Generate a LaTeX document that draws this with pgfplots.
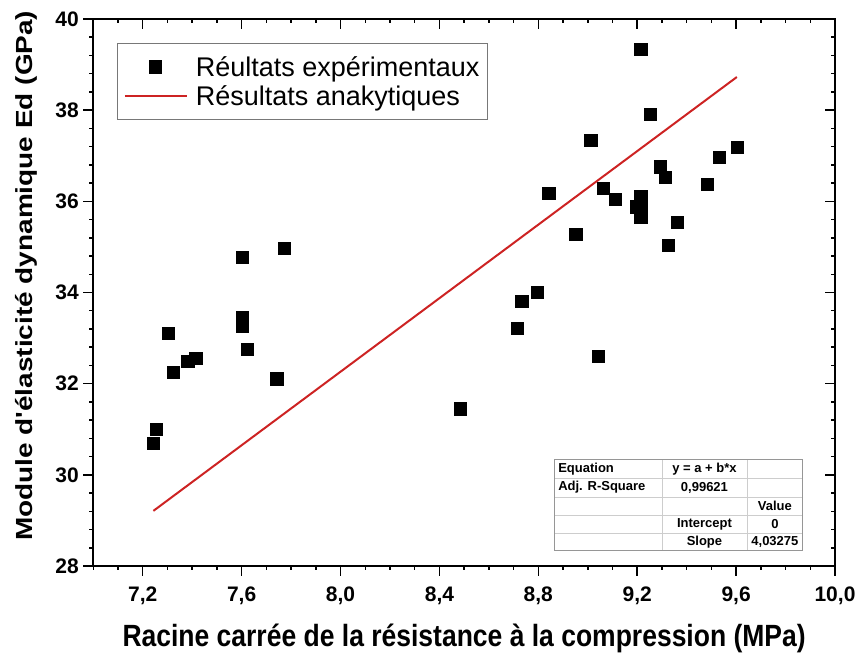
\documentclass[border=0pt]{standalone}
\usepackage{fontspec}
\setmainfont{Liberation Sans}
\newfontfamily\xlabfont[FakeStretch=0.863]{Liberation Sans}
\newfontfamily\ylabfont[FakeStretch=1.2]{Liberation Sans}
\usepackage{pgfplots}
\usepackage{pgfplotstable}
\pgfplotsset{compat=1.18}

\definecolor{fitred}{RGB}{205,35,35}
\definecolor{tabframe}{RGB}{150,150,150}
\definecolor{tabgrid}{RGB}{205,205,205}

% sqrt(fc) [MPa] vs dynamic modulus Ed [GPa]
\pgfplotstableread{
x      y
7.243  30.69
7.256  31.00
7.303  33.11
7.324  32.26
7.382  32.50
7.414  32.56
7.603  34.78
7.603  33.45
7.603  33.27
7.623  32.75
7.742  32.11
7.773  34.97
8.483  31.45
8.713  33.21
8.733  33.81
8.794  34.00
8.842  36.17
8.951  35.28
9.012  37.34
9.043  32.61
9.063  36.28
9.112  36.05
9.214  39.33
9.252  37.91
9.214  36.12
9.214  35.95
9.198  35.88
9.214  35.66
9.294  36.76
9.314  36.53
9.324  35.04
9.362  35.54
9.484  36.37
9.531  36.96
9.603  37.18
}\experimental

\begin{document}
\begin{tikzpicture}
\path[use as bounding box] (-93.3pt,-87pt) rectangle (763.7pt,566pt);

% common geometry of the two overlaid axes
\pgfplotsset{
  frame/.style={
    at={(0pt,0pt)}, anchor=south west,
    scale only axis, width=741.7pt, height=547pt,
    xmin=7.0, xmax=10.0, ymin=28, ymax=40,
    xtick={7.2,7.6,8.0,8.4,8.8,9.2,9.6,10.0},
    minor xtick={7.0,7.1,7.3,7.4,7.5,7.7,7.8,7.9,8.1,8.2,8.3,8.5,8.6,8.7,8.9,9.0,9.1,9.3,9.4,9.5,9.7,9.8,9.9},
    ytick={28,30,32,34,36,38,40},
    minor ytick={28.4,28.8,29.2,29.6,30.4,30.8,31.2,31.6,32.4,32.8,33.2,33.6,34.4,34.8,35.2,35.6,36.4,36.8,37.2,37.6,38.4,38.8,39.2,39.6},
    major tick length=10pt, minor tick length=4pt,
    every tick/.style={black, line width=1.5pt},
    axis line style={black, line width=1.8pt},
  }
}

% top and right ticks, pointing inwards
\begin{axis}[frame, tick pos=right, tick align=inside,
  xticklabels={}, yticklabels={}]
\end{axis}

\begin{axis}[frame, tick pos=left, tick align=outside,
  /pgf/number format/assume math mode=true,
  xticklabel style={/pgf/number format/fixed, /pgf/number format/fixed zerofill,
    /pgf/number format/precision=1, /pgf/number format/use comma, yshift=-7pt},
  tick label style={font=\fontsize{21}{24}\selectfont\bfseries},
  yticklabel style={xshift=-1pt},
  xlabel={Racine carrée de la résistance à la compression (MPa)},
  ylabel={Module d'élasticité dynamique Ed (GPa)},
  every axis x label/.style={at={(axis description cs:0.5,-0.1475)}, anchor=base,
    font=\xlabfont\fontsize{30.7}{34}\selectfont\bfseries},
  every axis y label/.style={at={(axis description cs:-0.0826,0.5305)}, rotate=90, anchor=base,
    font=\ylabfont\fontsize{23.3}{28}\selectfont\bfseries},
  legend image code/.code={\draw[mark repeat=2,mark phase=2,#1] plot coordinates {(0pt,0pt) (31pt,0pt) (62pt,0pt)};},
  legend cell align=left,
  legend style={at={(0.0324,0.9556)}, anchor=north west,
    draw=tabframe!80!black, line width=1pt,
    font=\fontsize{27}{32}\selectfont,
    inner xsep=6pt, inner ysep=10.5pt, row sep=4pt,
    /tikz/every odd column/.append style={column sep=6pt}},
]
\addplot[only marks, mark=square*, mark size=6.1pt, black] table[x=x, y=y] {\experimental};
\addlegendentry{Réultats expérimentaux}
% Ed = a + b*sqrt(fc) with a = 0, b = 4.03275
\addplot[fitred, line width=2pt] coordinates {(7.243,29.209) (9.603,38.727)};
\addlegendentry{Résultats anakytiques}

% fit summary table
\fill[white] (axis cs:8.864,30.342) rectangle (axis cs:9.870,28.345);
\draw[tabgrid, line width=0.8pt]
  (axis cs:8.864,29.925) -- (axis cs:9.870,29.925)
  (axis cs:8.864,29.508) -- (axis cs:9.870,29.508)
  (axis cs:8.864,29.113) -- (axis cs:9.870,29.113)
  (axis cs:8.864,28.718) -- (axis cs:9.870,28.718)
  (axis cs:9.300,30.342) -- (axis cs:9.300,28.345)
  (axis cs:9.644,30.342) -- (axis cs:9.644,28.345);
\draw[tabframe, line width=1pt] (axis cs:8.864,30.342) rectangle (axis cs:9.870,28.345);
\begin{scope}[every node/.style={font=\fontsize{13}{15}\selectfont\bfseries, inner sep=0pt}]
\node[anchor=west] at (axis cs:8.880,30.13) {Equation};
\node at (axis cs:9.472,30.13) {y = a + b*x};
\node[anchor=west] at (axis cs:8.880,29.72) {Adj. R-Square};
\node at (axis cs:9.472,29.72) {0,99621};
\node at (axis cs:9.757,29.31) {Value};
\node at (axis cs:9.472,28.92) {Intercept};
\node at (axis cs:9.757,28.92) {0};
\node at (axis cs:9.472,28.53) {Slope};
\node at (axis cs:9.757,28.53) {4,03275};
\end{scope}
\end{axis}
\end{tikzpicture}
\end{document}
